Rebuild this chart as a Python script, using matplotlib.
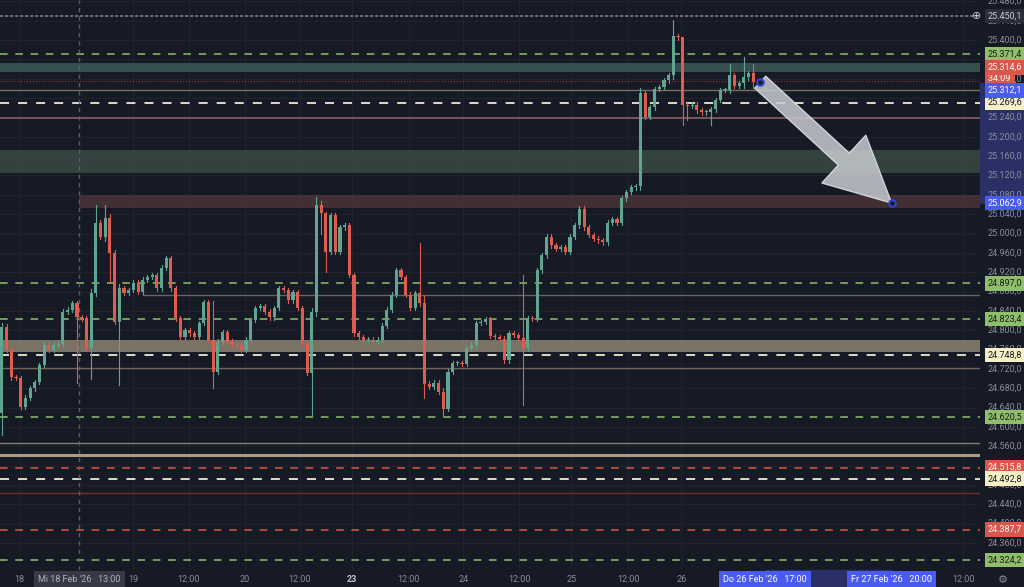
import matplotlib
matplotlib.use('Agg')
import matplotlib.pyplot as plt
from matplotlib.patches import Rectangle

plt.rcParams['font.family'] = ['Roboto', 'DejaVu Sans']

# closing prices per hourly bar (open = previous close)
closes = [24807, 24759, 24703, 24701, 24641, 24660, 24680, 24693, 24728, 24770,
          24759, 24770, 24772, 24838, 24842, 24856, 24827, 24825, 24763, 24877,
          25022, 24993, 25032, 24960, 24817, 24887, 24877, 24883, 24898, 24879,
          24904, 24910, 24914, 24887, 24929, 24949, 24887, 24825, 24786, 24800,
          24794, 24786, 24815, 24858, 24780, 24714, 24776, 24796, 24776, 24771,
          24770, 24759, 24780, 24821, 24846, 24850, 24838, 24827, 24846, 24887,
          24883, 24862, 24879, 24846, 24774, 24712, 24838, 25059, 25042, 24962,
          25038, 24962, 25013, 25017, 24914, 24794, 24786, 24780, 24780, 24776,
          24780, 24809, 24842, 24873, 24924, 24910, 24873, 24846, 24877, 24856,
          24689, 24683, 24691, 24672, 24637, 24714, 24732, 24732, 24730, 24763,
          24770, 24815, 24817, 24823, 24788, 24786, 24782, 24738, 24794, 24790,
          24784, 24763, 24825, 24823, 24924, 24955, 24993, 24976, 24968, 24972,
          24962, 24993, 25017, 25051, 25013, 24997, 24989, 24986, 24982, 25022,
          25030, 25022, 25073, 25086, 25096, 25098, 25290, 25241, 25261, 25299,
          25303, 25317, 25328, 25408, 25406, 25266, 25264, 25266, 25255, 25251,
          25251, 25257, 25276, 25297, 25297, 25328, 25305, 25311, 25323, 25332,
          25313]
first_open = 24629
# notable wicks: bar -> (low, high)
wicks = {0: (24583, 24815), 16: (24690, 24860), 19: (24700, 24885), 20: (24870, 25059),
         22: (24985, 25059), 23: (24900, 25040), 25: (24687, 24895), 45: (24681, 24860),
         66: (24625, 24845), 67: (24830, 25075), 68: (25000, 25068), 69: (24920, 25045),
         89: (24850, 24980), 90: (24660, 24870), 94: (24622, 24680), 111: (24645, 24915),
         136: (25090, 25300), 143: (25320, 25441), 145: (25224, 25390), 146: (25234, 25270),
         151: (25225, 25262), 155: (25290, 25350), 158: (25300, 25365), 160: (25300, 25350)}

green_levels = [25371.4, 24897.0, 24823.4, 24620.5, 24324.2]
cream_levels = [25269.6, 24748.8, 24492.8]
red_levels = [24515.8, 24387.7]
# (price, start bar, colour, width)
solid_levels = [(25297, -1, '#7a6e5c', 1.0), (25239, -1, '#7a5558', 1.4),
                (24873, 30, '#6e6557', 1.0), (24722, -1, '#6e6557', 1.0),
                (24567, -1, '#8a7e68', 1.0), (24542, -1, '#a89c84', 2.2),
                (24463, -1, '#7a2a2a', 1.0)]
# (low, high, start bar, colour)
zones = [(25334, 25352, -1, '#3d5a57'), (25125, 25172, -1, '#3a4a44'),
         (25053, 25080, 16.5, '#4a3337'), (24755, 24780, -1, '#8c8270')]
y_ticks = list(range(24360, 25481, 40))
x_ticks = [3.8, 27.9, 39.8, 51.7, 63.4, 74.5, 86.6, 98.3, 110.2, 121.3, 133.4, 144.7, 204.7]
x_labels = ['18', '19', '12:00', '20', '12:00', '23', '12:00', '24', '12:00', '25',
            '12:00', '26', '12:00']

BG = '#161a25'
UP, DOWN = '#5fa58f', '#dd5e50'
FS = 6.5


def fmt(p):
    s = f"{p:,.1f}"
    return s.replace(',', 'X').replace('.', ',').replace('X', '.')


fig = plt.figure(figsize=(10.24, 5.87), dpi=100, facecolor=BG)
ax = fig.add_axes([0, 0.029, 0.957, 0.971], facecolor=BG)
ymin, ymax = 24304, 25483
xmin, xmax = -0.4, 208.3
ax.set_xlim(xmin, xmax)
ax.set_ylim(ymin, ymax)

for t in y_ticks:
    ax.axhline(t, color='#1f2330', lw=0.8, zorder=0)
for t in x_ticks:
    ax.axvline(t, color='#1f2330', lw=0.8, zorder=0)

for lo, hi, x0, col in zones:
    ax.add_patch(Rectangle((x0, lo), xmax - x0, hi - lo, color=col, alpha=0.85, zorder=1, lw=0))
for p, x0, col, w in solid_levels:
    ax.plot([x0, xmax], [p, p], color=col, lw=w, zorder=1)

prev = first_open
for i, c in enumerate(closes):
    o = prev
    lo, hi = wicks.get(i, (min(o, c) - 5, max(o, c) + 5))
    col = UP if c >= o else DOWN
    ax.plot([i, i], [lo, hi], color=col, lw=0.8, zorder=3)
    ax.add_patch(Rectangle((i - 0.33, min(o, c)), 0.66, max(abs(c - o), 1.5),
                           color=col, zorder=3, lw=0))
    prev = c

for p in green_levels:
    ax.axhline(p, color='#8fbf6a', lw=1.1, ls=(0, (5, 5)), zorder=2)
for p in cream_levels:
    ax.axhline(p, color='#f0ead0', lw=1.3, ls=(0, (5, 5)), zorder=2)
for p in red_levels:
    ax.axhline(p, color='#d8574b', lw=1.1, ls=(0, (5, 5)), zorder=2)
ax.axhline(25450.1, color='#777b86', lw=1.2, ls=(0, (2, 1)), zorder=2)
ax.axhline(25314.6, color='#a03a3a', lw=0.8, ls=':', zorder=2)
ax.axvline(16.5, color='#5a5e6a', lw=1, ls=(0, (3, 3)), zorder=2)

# projection arrow
x_a, y_a, x_b, y_b = 161.5, 25313, 189.5, 25062.9
ax.annotate('', xy=(x_b, y_b), xytext=(x_a, y_a), zorder=4,
            arrowprops=dict(arrowstyle='simple,head_length=1.8,head_width=1.8,tail_width=0.45',
                            mutation_scale=26, fc='#c8cbd0', ec='#e0e2e6', alpha=0.85,
                            shrinkA=0, shrinkB=0))
ax.scatter([x_a, x_b], [y_a, y_b], s=22, facecolor=BG, edgecolor='#3048c8', lw=1.5, zorder=5)

ax.set_xticks([])
ax.set_yticks([])
for s in ax.spines.values():
    s.set_visible(False)

# price scale
tr = ax.get_yaxis_transform()
LX = 1.008
ax.add_patch(Rectangle((1.0, (25062.9 - ymin) / (ymax - ymin)), 0.045,
                       (25312.1 - 25062.9) / (ymax - ymin), transform=ax.transAxes,
                       color='#2a2f66', clip_on=False, zorder=0))
for t in y_ticks:
    ax.text(LX, t, fmt(t), transform=tr, color='#8a8e99', fontsize=FS,
            ha='left', va='center', clip_on=False)
badges = [(25450.1, '#2a2e39', '#c8cbd0'), (25371.4, '#8fbf6a', '#1a1a1a'),
          (25314.6, '#d8574b', '#ffffff'), (25269.6, '#f5f0c8', '#1a1a1a'),
          (25312.1, '#4a5cf0', '#ffffff'), (25062.9, '#4a5cf0', '#ffffff'),
          (24897.0, '#8fbf6a', '#1a1a1a'), (24823.4, '#8fbf6a', '#1a1a1a'),
          (24748.8, '#f5f0c8', '#1a1a1a'), (24620.5, '#8fbf6a', '#1a1a1a'),
          (24515.8, '#d8574b', '#ffffff'), (24492.8, '#f5f0c8', '#1a1a1a'),
          (24387.7, '#d8574b', '#ffffff'), (24324.2, '#8fbf6a', '#1a1a1a')]
badge_pos = {25314.6: 25343, 25312.1: 25296, 25269.6: 25271}
ax.text(LX, 25320, '34:09 ', transform=tr, color='#ffffff', fontsize=FS,
        ha='left', va='center', clip_on=False, zorder=6,
        bbox=dict(boxstyle='square,pad=0.3', fc='#d8574b', ec='none'))
for p, bg, fg in badges:
    ax.text(LX, badge_pos.get(p, p), fmt(p), transform=tr, color=fg, fontsize=FS,
            ha='left', va='center', clip_on=False, zorder=6,
            bbox=dict(boxstyle='square,pad=0.3', fc=bg, ec='none'))
ax.text(0.997, 25450.1, '⊕', transform=tr, color='#c8cbd0', fontsize=8,
        family='DejaVu Sans', ha='center', va='center', clip_on=False, zorder=6)

# time scale
xtr = ax.get_xaxis_transform()
for t, lab in zip(x_ticks, x_labels):
    ax.text(t, -0.017, lab, transform=xtr, color='#c8cbd0' if lab == '23' else '#8a8e99',
            fontsize=FS, ha='center', va='center', clip_on=False,
            fontweight='bold' if lab == '23' else 'normal')
ax.text(16.5, -0.017, "Mi 18 Feb '26   13:00", transform=xtr, color='#b0b3bb', fontsize=FS,
        ha='center', va='center', clip_on=False, zorder=6,
        bbox=dict(boxstyle='square,pad=0.45', fc='#363a45', ec='none'))
ax.add_patch(Rectangle((162.5, -0.03), 27, 0.03, transform=xtr, color='#2a2f66',
                       clip_on=False, zorder=0))
ax.text(162.5, -0.017, "Do 26 Feb '26   17:00", transform=xtr, color='#ffffff', fontsize=FS,
        ha='center', va='center', clip_on=False, zorder=6,
        bbox=dict(boxstyle='square,pad=0.45', fc='#4a5cf0', ec='none'))
ax.text(189.5, -0.017, "Fr 27 Feb '26   20:00", transform=xtr, color='#ffffff', fontsize=FS,
        ha='center', va='center', clip_on=False, zorder=6,
        bbox=dict(boxstyle='square,pad=0.45', fc='#4a5cf0', ec='none'))
ax.text(1.023, -0.017, '⚙', transform=ax.transAxes, color='#8a8e99', fontsize=8,
        family='DejaVu Sans', ha='center', va='center', clip_on=False)

fig.savefig('out.png', dpi=100, facecolor=BG)
